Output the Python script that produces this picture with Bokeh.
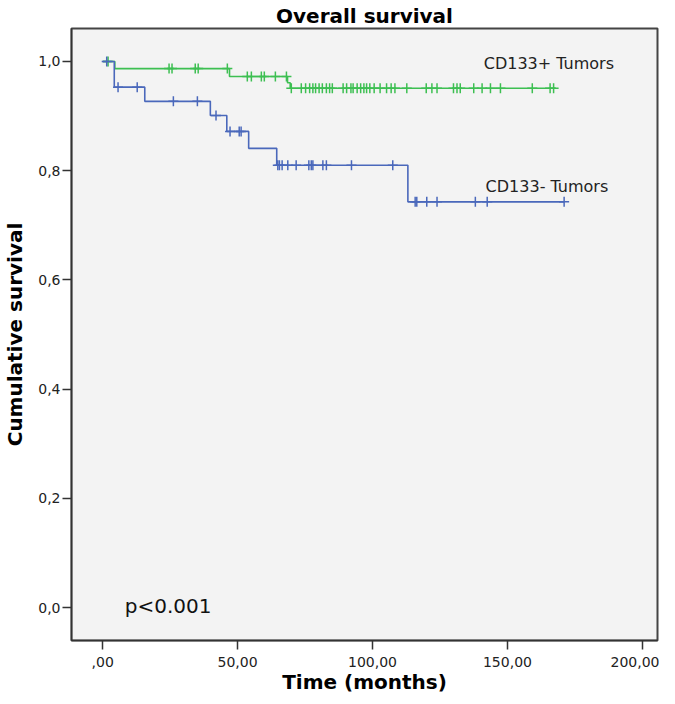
from bokeh.plotting import figure
from bokeh.models import Range1d, FixedTicker, CustomJSTickFormatter, Label
from bokeh.embed import file_html
from bokeh.resources import INLINE

# ---- data ----
# CD133+ tumors (green)
pos_event_times = [4.5, 47.0, 68.5, 69.5]
pos_event_surv = [0.987, 0.9725, 0.961, 0.951]
pos_end_time = 168.0
pos_censor_times = [2.0, 24.6, 25.7, 34.3, 35.4, 46.2, 53.6, 55.1, 58.8, 59.9, 64.0, 68.1,
                    69.9, 73.6, 75.2, 76.7, 77.9, 78.9, 80.2, 81.4, 82.9, 84.1, 85.1, 89.1,
                    90.4, 92.0, 92.8, 94.3, 95.6, 96.8, 97.8, 99.0, 100.6, 102.8, 105.2, 106.9,
                    108.3, 112.7, 119.9, 122.0, 123.9, 130.0, 131.3, 132.5, 137.5, 140.6,
                    143.7, 147.4, 159.2, 165.8, 167.1]

# CD133- tumors (blue)
neg_event_times = [4.3, 15.6, 39.9, 46.0, 54.1, 64.5, 113.1]
neg_event_surv = [0.953, 0.927, 0.901, 0.872, 0.841, 0.810, 0.743]
neg_end_time = 171.0
neg_censor_times = [1.5, 5.7, 12.8, 26.2, 35.1, 42.0, 47.2, 50.6, 51.3, 64.9, 65.5, 66.5,
                    68.6, 71.7, 76.4, 77.3, 77.9, 81.6, 82.9, 92.2, 107.5, 115.8, 116.4,
                    120.1, 123.9, 138.1, 142.5, 171.0]

x_ticks = [0, 50, 100, 150, 200]
y_ticks = [0.0, 0.2, 0.4, 0.6, 0.8, 1.0]

title_text = "Overall survival"
x_label = "Time (months)"
y_label = "Cumulative survival"
pos_label = "CD133+ Tumors"
neg_label = "CD133- Tumors"
p_text = "p<0.001"

GREEN = "#3dbf52"
BLUE = "#4a68bb"
FONT = "DejaVu Sans"


def surv_at(t, times, surv):
    s = 1.0
    for et, es in zip(times, surv):
        if et <= t:
            s = es
    return s


p = figure(width=659, height=696, output_backend="svg", toolbar_location=None,
           x_range=Range1d(-11.55, 205.6), y_range=Range1d(-0.060, 1.0604),
           min_border_left=71, min_border_right=2, min_border_bottom=50, min_border_top=24)

p.background_fill_color = "#f3f3f3"
p.border_fill_color = "white"
p.outline_line_color = "#444444"
p.outline_line_width = 2
p.xgrid.visible = False
p.ygrid.visible = False

p.title.text = title_text
p.title.align = "center"
p.title.text_font = FONT
p.title.text_font_size = "20px"
p.title.text_font_style = "bold"
p.title.text_color = "black"
p.title.standoff = 2

# axes
for ax in (p.xaxis[0], p.yaxis[0]):
    ax.axis_line_color = "#333333"
    ax.axis_line_width = 1.5
    ax.major_tick_line_color = "#333333"
    ax.major_tick_line_width = 1.5
    ax.major_tick_in = 0
    ax.major_tick_out = 9
    ax.minor_tick_line_color = None
    ax.major_label_text_font = FONT
    ax.major_label_text_font_size = "14px"
    ax.major_label_text_color = "#222222"
    ax.axis_label_text_font = FONT
    ax.axis_label_text_font_size = "20px"
    ax.axis_label_text_font_style = "bold"
    ax.axis_label_text_color = "black"

p.xaxis.ticker = FixedTicker(ticks=x_ticks)
p.yaxis.ticker = FixedTicker(ticks=y_ticks)
p.xaxis.formatter = CustomJSTickFormatter(
    code="return tick == 0 ? ',00' : tick.toFixed(2).replace('.', ',');")
p.yaxis.formatter = CustomJSTickFormatter(
    code="return tick.toFixed(1).replace('.', ',');")
p.xaxis.axis_label = x_label
p.yaxis.axis_label = y_label
p.xaxis.major_label_standoff = 7
p.yaxis.major_label_standoff = 2
p.xaxis.axis_label_standoff = 0
p.yaxis.axis_label_standoff = 8

# curves
for times, surv, end, censors, color in (
        (pos_event_times, pos_event_surv, pos_end_time, pos_censor_times, GREEN),
        (neg_event_times, neg_event_surv, neg_end_time, neg_censor_times, BLUE)):
    xs = [0.0] + list(times) + [end]
    ys = [1.0] + list(surv) + [surv[-1]]
    p.step(xs, ys, mode="after", line_color=color, line_width=1.6)
    cy = [surv_at(t, times, surv) for t in censors]
    p.scatter(censors, cy, marker="cross", size=10, line_color=color, line_width=1.5)

p.add_layout(Label(x=141.2, y=0.996, text=pos_label, text_font=FONT, text_font_size="16px",
                   text_color="#222222", text_baseline="middle"))
p.add_layout(Label(x=141.9, y=0.771, text=neg_label, text_font=FONT, text_font_size="16px",
                   text_color="#222222", text_baseline="middle"))
p.add_layout(Label(x=8.2, y=0.004, text=p_text, text_font=FONT, text_font_size="20px",
                   text_color="#111111", text_baseline="middle"))

html = file_html(p, INLINE)
open("out.html", "w").write(html)
